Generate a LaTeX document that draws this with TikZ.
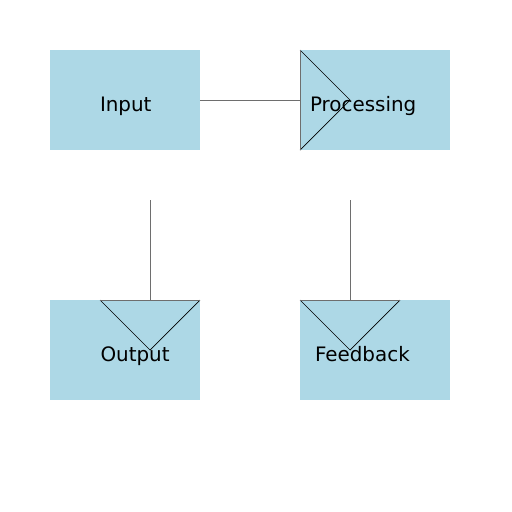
\documentclass[tikz,border=0pt]{standalone}
\usepackage{fontspec}
\setmainfont{DejaVu Sans}
\definecolor{boxblue}{HTML}{ADD8E6}
\definecolor{linegray}{HTML}{6E6E6E}
\tikzset{
  box/.style={fill=boxblue, draw=none, minimum width=150pt, minimum height=100pt, inner sep=0pt, outer sep=0pt},
  conn/.style={draw=linegray, line width=1pt},
  tri/.style={draw=black, line width=0.7pt, line join=miter},
  lbl/.style={inner sep=0pt, outer sep=0pt, anchor=base west, font=\fontsize{19.9pt}{24pt}\selectfont}
}
\begin{document}
\begin{tikzpicture}[x=1pt,y=-1pt]
\path[use as bounding box] (0,0) rectangle (512,512);
% boxes
\node[box] (inp) at (125,100) {};
\node[box] (proc) at (375,100) {};
\node[box] (outp) at (125,350) {};
\node[box] (feed) at (375,350) {};
% free ends
\coordinate (s1) at (150,200);
\coordinate (s2) at (350,200);
\coordinate (e1) at (150,300);
\coordinate (e2) at (350,300);
% connectors
\draw[conn] (inp.east) -- (proc.west);
\draw[tri] (proc.north west) -- ++(50,50) -- (proc.south west);
\draw[conn] (proc.north west) -- (proc.south west);
\draw[conn] (s1) -- (e1);
\draw[tri] ([xshift=-50pt]e1) -- ++(50,50) -- ([xshift=50pt]e1);
\draw[conn] ([xshift=-50pt]e1) -- ([xshift=50pt]e1);
\draw[conn] (s2) -- (e2);
\draw[tri] ([xshift=-50pt]e2) -- ++(50,50) -- ([xshift=50pt]e2);
\draw[conn] ([xshift=-50pt]e2) -- ([xshift=50pt]e2);
% labels
\node[lbl] (tinp) at (100,111.2) {Input};
\node[lbl] (tproc) at (310,111.2) {Processing};
\node[lbl] (toutp) at (100.5,361.2) {Output};
\node[lbl] (tfeed) at (315,361.2) {Feedback};
\end{tikzpicture}
\end{document}
